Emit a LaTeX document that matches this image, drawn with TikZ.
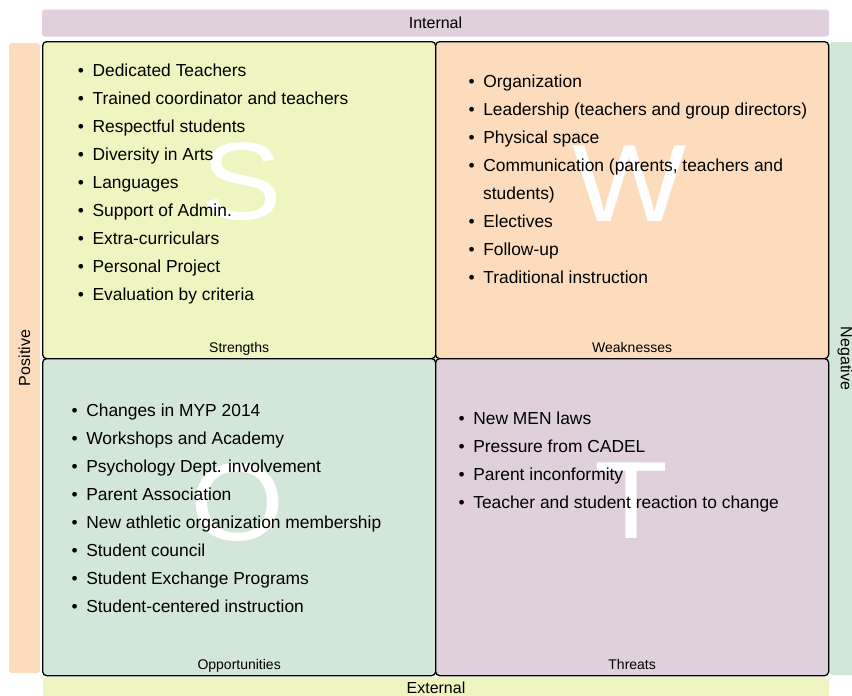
\documentclass[tikz,border=0pt]{standalone}
\usepackage{fontspec}
\setmainfont{Liberation Sans}
\usepackage{tikz}
\usetikzlibrary{positioning}
\definecolor{swotyellow}{HTML}{EFF5C1}
\definecolor{swotpeach}{HTML}{FCDCBD}
\definecolor{swotgreen}{HTML}{D3E6DA}
\definecolor{swotmauve}{HTML}{DFD0DB}
\tikzstyle{quad} = [rectangle, rounded corners=4pt, draw=black, line width=1.3pt, minimum width=393pt, minimum height=317pt, anchor=north west, inner sep=0pt]
\tikzstyle{bar} = [rectangle, rounded corners=3pt, inner sep=0pt, font=\fontsize{16}{18}\selectfont]
\tikzstyle{bigletter} = [text=white, font=\fontsize{110}{110}\selectfont, xscale=1.1, inner sep=0pt]
\tikzstyle{item} = [anchor=base west, inner sep=0pt, font=\fontsize{17.4}{20}\selectfont]
\tikzstyle{tag} = [inner sep=0pt, text height=10pt, text depth=3pt, font=\fontsize{14}{16}\selectfont]
\newcommand{\bul}{\textbullet\hspace{8.6pt}}

\begin{document}
\begin{tikzpicture}[x=1pt, y=-1pt]
\useasboundingbox (0,0) rectangle (852,696);
% Side bars
\node[bar, fill=swotmauve, minimum width=787pt, minimum height=27pt] (internal) at (435.5,23) {Internal};
\node[bar, fill=swotyellow, minimum width=786pt, minimum height=21pt] (external) at (436,687.5) {External};
\node[bar, fill=swotpeach, minimum width=630pt, minimum height=31pt, rotate=90] (positive) at (24.5,358) {Positive};
\node[bar, fill=swotgreen, minimum width=633pt, minimum height=32pt, rotate=-90] (negative) at (845,358.5) {Negative};

% Four quadrants
\node[quad, fill=swotyellow] (S) at (42,41) {};
\node[quad, fill=swotpeach] (W) at (435,41) {};
\node[quad, fill=swotgreen] (O) at (42,358) {};
\node[quad, fill=swotmauve] (T) at (435,358) {};

\node[bigletter] (Sbig) at (242,182) {S};
\node[bigletter] (Wbig) at (630,183.5) {W};
\node[bigletter] (Obig) at (238,503) {O};
\node[bigletter] (Tbig) at (631,501) {T};

% Strengths
\foreach \txt [count=\i from 0] in {Dedicated Teachers, Trained coordinator and teachers, Respectful students, Diversity in Arts, Languages, Support of Admin., Extra-curriculars, Personal Project, Evaluation by criteria}
  \node[item] (s\i) at (77.7,76.5+28*\i) {\bul\txt};

% Weaknesses
\foreach \txt/\row in {Organization/0, Leadership (teachers and group directors)/1, Physical space/2, {Communication (parents, teachers and/3}, Electives/5, Follow-up/6, Traditional instruction/7}
  \node[item] (w\row) at (468.4,87.5+28*\row) {\bul\txt};
\node[item] (w4) at (483,199.5) {students)};

% Opportunities
\foreach \txt [count=\i from 0] in {Changes in MYP 2014, Workshops and Academy, Psychology Dept. involvement, Parent Association, New athletic organization membership, Student council, Student Exchange Programs, Student-centered instruction}
  \node[item] (o\i) at (71.4,416.5+28*\i) {\bul\txt};

% Threats
\foreach \txt [count=\i from 0] in {New MEN laws, Pressure from CADEL, Parent inconformity, Teacher and student reaction to change}
  \node[item] (t\i) at (458.4,424.5+28*\i) {\bul\txt};

% Quadrant names
\node[tag, above=3.5pt of S.south] (Sname) {Strengths};
\node[tag, above=3.5pt of W.south] (Wname) {Weaknesses};
\node[tag, above=3.5pt of O.south] (Oname) {Opportunities};
\node[tag, above=3.5pt of T.south] (Tname) {Threats};
\end{tikzpicture}
\end{document}
